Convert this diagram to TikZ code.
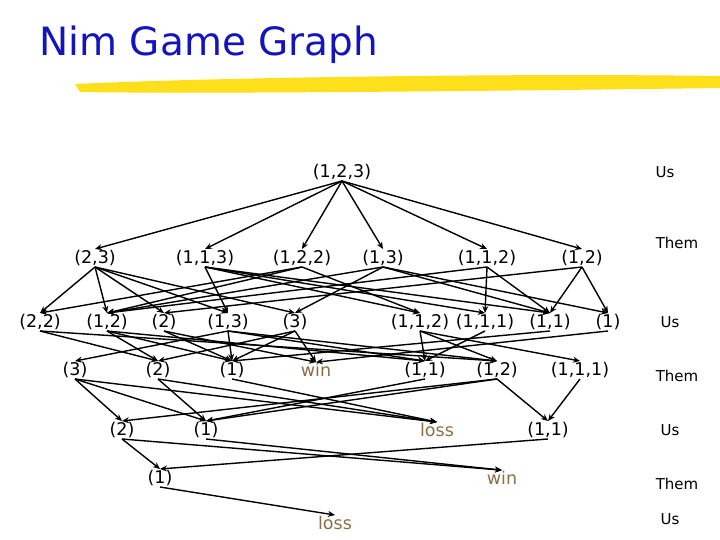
\documentclass[tikz,border=0pt]{standalone}
\usepackage{fontspec}
\setmainfont{DejaVu Sans}
\usetikzlibrary{arrows.meta}
\begin{document}
\begin{tikzpicture}[x=1pt,y=-1pt,
  st/.style={font=\fontsize{17.5}{20}\selectfont,inner sep=1pt},
  wl/.style={st,text={rgb,255:red,140;green,110;blue,70}},
  lab/.style={font=\fontsize{15}{17}\selectfont},
  e/.style={-{Stealth[length=7pt,width=6pt]},line width=1.4pt}]
\useasboundingbox (0,0) rectangle (720,540);
\node[anchor=west,text={rgb,255:red,20;green,20;blue,190},font=\fontsize{39}{44}\selectfont] (title) at (36,45) {Nim Game Graph};
\fill[yellow!80!orange!90!white] (75,84) .. controls (200,78) and (500,73) .. (720,76) -- (720,88) .. controls (500,91) and (200,94) .. (80,92) -- cycle;
% row labels
\node[lab] (r0) at (665,172) {Us};
\node[lab] (r1) at (677,243) {Them};
\node[lab] (r2) at (670,322) {Us};
\node[lab] (r3) at (677,376) {Them};
\node[lab] (r4) at (670,430) {Us};
\node[lab] (r5) at (677,484) {Them};
\node[lab] (r6) at (670,519) {Us};
% nodes
\node[st] (a) at (342,172) {(1,2,3)};
\node[st] (b1) at (95,258) {(2,3)};
\node[st] (b2) at (205,258) {(1,1,3)};
\node[st] (b3) at (302,258) {(1,2,2)};
\node[st] (b4) at (383,258) {(1,3)};
\node[st] (b5) at (487,258) {(1,1,2)};
\node[st] (b6) at (582,258) {(1,2)};
\node[st] (c1) at (40,322) {(2,2)};
\node[st] (c2) at (107,322) {(1,2)};
\node[st] (c3) at (164,322) {(2)};
\node[st] (c4) at (228,322) {(1,3)};
\node[st] (c5) at (295,322) {(3)};
\node[st] (c6) at (420,322) {(1,1,2)};
\node[st] (c7) at (485,322) {(1,1,1)};
\node[st] (c8) at (550,322) {(1,1)};
\node[st] (c9) at (608,322) {(1)};
\node[st] (d1) at (75,370) {(3)};
\node[st] (d2) at (158,370) {(2)};
\node[st] (d3) at (232,370) {(1)};
\node[wl] (d4) at (316,370) {win};
\node[st] (d5) at (425,370) {(1,1)};
\node[st] (d6) at (497,370) {(1,2)};
\node[st] (d7) at (580,370) {(1,1,1)};
\node[st] (f1) at (122,430) {(2)};
\node[st] (f2) at (206,430) {(1)};
\node[wl] (f3) at (437,430) {loss};
\node[st] (f4) at (548,430) {(1,1)};
\node[st] (g1) at (160,478) {(1)};
\node[wl] (g2) at (502,478) {win};
\node[wl] (h1) at (335,523) {loss};
% edges
\foreach \s/\t in {a/b1,a/b2,a/b3,a/b4,a/b5,a/b6,
 b1/c1,b1/c2,b1/c3,b1/c4,b1/c5,
 b2/c4,b2/c6,b2/c7,b2/c8,
 b3/c1,b3/c6,b3/c2,
 b4/c5,b4/c2,b4/c8,b4/c9,
 b5/c2,b5/c7,b5/c8,
 b6/c3,b6/c8,b6/c9,
 c1/d6,c1/d2,
 c2/d2,c2/d5,c2/d3,
 c3/d3,c3/d4,
 c4/d1,c4/d6,c4/d5,c4/d3,
 c5/d2,c5/d3,c5/d4,
 c6/d6,c6/d7,c6/d5,
 c7/d5,c8/d3,c9/d4,
 d1/f1,d1/f2,d1/f3,
 d2/f2,d2/f3,d3/f3,
 d5/f2,d6/f1,d6/f2,d6/f4,d7/f4,
 f1/g1,f1/g2,f2/g2,f4/g1,
 g1/h1}
 \draw[e] (\s.south) -- (\t.north);
\end{tikzpicture}
\end{document}
